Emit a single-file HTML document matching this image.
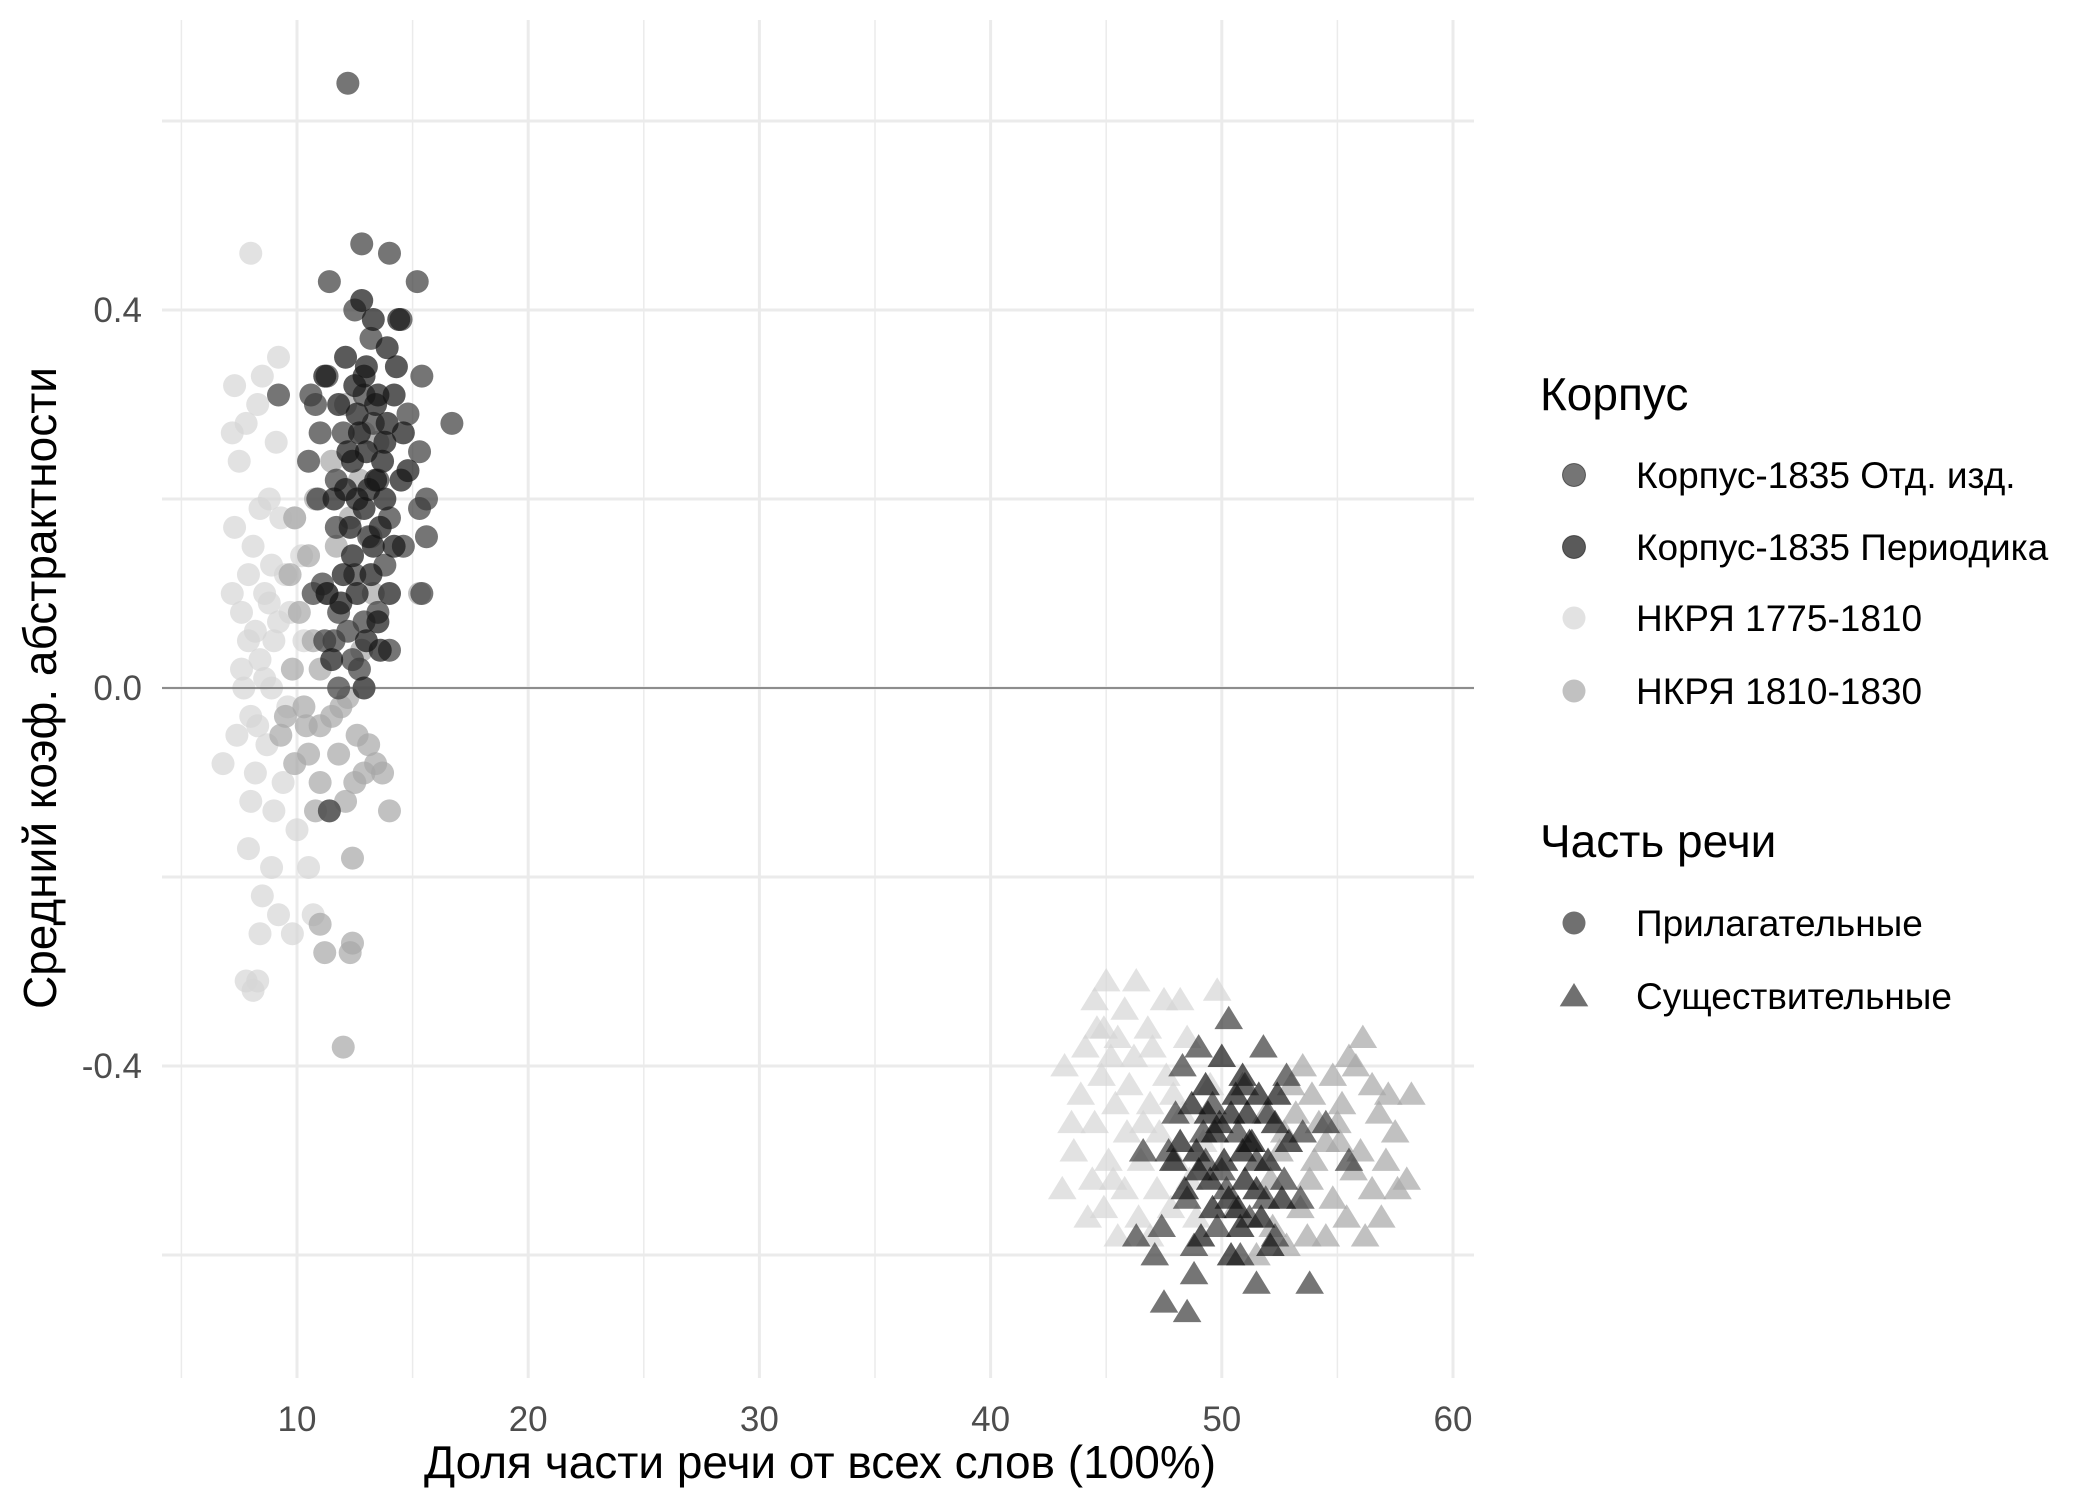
<!DOCTYPE html>
<html><head><meta charset="utf-8"><style>
html,body{margin:0;padding:0;background:#fff;}
svg{display:block;font-family:"Liberation Sans","DejaVu Sans",sans-serif;}
</style></head><body>
<svg id="chart" width="2100" height="1500" viewBox="0 0 2100 1500">
<g id="grid"></g>
<g id="points"></g>
<g id="axes"></g>
<text x="820" y="1478" text-anchor="middle" font-size="46" fill="#000">Доля части речи от всех слов (100%)</text>
<text transform="translate(56,688) rotate(-90)" text-anchor="middle" font-size="46" fill="#000">Средний коэф. абстрактности</text>
<g id="legend"></g>
</svg>
<script>
const xTicks=[10,20,30,40,50,60];
const xMinor=[5,15,25,35,45,55];
const yTicks=[0.4,0,-0.4];
const yMinor=[0.6,0.2,-0.2,-0.6];
const corpusNames=["Корпус-1835 Отд. изд.","Корпус-1835 Периодика","НКРЯ 1775-1810","НКРЯ 1810-1830"];
const corpusColors=["#3a3a3a","#141414","#d6d6d6","#a6a6a6"];
const posNames=["Прилагательные","Существительные"];
const adj1775=[[8,0.46],[7.3,0.32],[8.5,0.33],[9.2,0.35],[7.2,0.27],[7.8,0.28],[8.3,0.3],[7.5,0.24],[8.8,0.2],[9.3,0.18],[8.1,0.15],[7.9,0.12],[8.6,0.1],[9.5,0.12],[8.2,0.06],[7.6,0.08],[9,0.05],[8.4,0.03],[7.7,0],[8.9,0],[9.6,-0.02],[8,-0.03],[7.4,-0.05],[8.7,-0.06],[6.8,-0.08],[8.2,-0.09],[9.4,-0.1],[8,-0.12],[9,-0.13],[10,-0.15],[7.9,-0.17],[8.9,-0.19],[8.5,-0.22],[9.2,-0.24],[8.4,-0.26],[9.8,-0.26],[7.8,-0.31],[8.3,-0.31],[8.1,-0.32],[10.5,-0.19],[10.7,-0.24],[9.7,0.08],[10.2,0.14],[9.1,0.26],[7.3,0.17],[8.6,0.01],[7.9,0.05],[8.8,0.09],[8.4,0.19],[9.9,0.18],[7.6,0.02],[8.3,-0.04],[9.2,0.07],[10.3,0.05],[7.2,0.1],[8.9,0.13]];
const adj1810=[[12,-0.38],[11.2,-0.28],[12.4,-0.27],[12.3,-0.28],[11,-0.25],[12.4,-0.18],[10.8,-0.13],[11.4,-0.13],[11,-0.1],[12.1,-0.12],[14,-0.13],[13.4,-0.08],[13.7,-0.09],[10.5,-0.07],[11.8,-0.07],[12.6,-0.05],[9.9,-0.08],[9.5,-0.03],[10.3,-0.02],[11.5,-0.03],[12.2,-0.01],[9.8,0.02],[11,0.02],[10.7,0.05],[12.8,0.04],[10.1,0.08],[11.3,0.1],[9.7,0.12],[10.5,0.14],[11.7,0.15],[12.3,0.18],[10.8,0.2],[13.2,0.16],[15.3,0.1],[11.5,0.24],[12.9,0.27],[13.5,0.26],[12.1,0.3],[9.9,0.18],[11,-0.04],[13.1,-0.06],[12.9,-0.09],[9.3,-0.05],[10.4,-0.04],[12.5,-0.1],[11.9,-0.02],[13.3,0.1],[12.7,0.22]];
const adjOtd=[[12.2,0.64],[11.4,0.43],[12.8,0.47],[14,0.46],[15.2,0.43],[12.5,0.4],[14.5,0.39],[13.2,0.37],[11.3,0.33],[10.6,0.31],[9.2,0.31],[15.4,0.33],[16.7,0.28],[15.3,0.25],[12,0.27],[11,0.27],[13.5,0.22],[15.6,0.2],[15.3,0.19],[11.7,0.17],[14,0.18],[15.6,0.16],[13.1,0.16],[12.5,0.12],[15.4,0.1],[13.5,0.08],[10.7,0.1],[11.8,0.08],[12.9,0.07],[11.6,0.05],[12.4,0.03],[14,0.04],[11.2,0.05],[12.7,0.02],[11.8,0.0],[11.4,-0.13],[11.7,0.22],[10.5,0.24],[14.8,0.29],[12.9,0.31],[11.1,0.11],[13.8,0.13],[10.9,0.2],[12.2,0.06],[14.6,0.15],[10.8,0.3],[13.3,0.28]];
const adjPer=[[12.8,0.41],[13.3,0.39],[14.4,0.39],[12.1,0.35],[13,0.34],[14.3,0.34],[12.5,0.32],[13.5,0.31],[12.6,0.29],[14.2,0.31],[13.9,0.28],[12.2,0.25],[13,0.25],[14.6,0.27],[13.4,0.22],[12.1,0.21],[13.8,0.2],[14.5,0.22],[12.9,0.19],[13.6,0.17],[14.2,0.15],[12.4,0.14],[13.2,0.12],[14,0.1],[12.6,0.1],[11.9,0.09],[13.5,0.07],[13,0.05],[11.5,0.03],[12.9,0.0],[13.6,0.04],[12.3,0.17],[11.2,0.33],[14.8,0.23],[13.7,0.24],[12.7,0.27],[11.8,0.3],[13.9,0.36],[11.3,0.1],[12.9,0.33],[13.4,0.3],[12.4,0.24],[13.1,0.21],[13.8,0.26],[12.6,0.2],[13.3,0.15],[12,0.12],[11.6,0.2]];
const noun1775=[[45,-0.31],[46.3,-0.31],[44.5,-0.33],[45.8,-0.34],[47.5,-0.33],[48.2,-0.33],[49.8,-0.32],[44.6,-0.36],[45.5,-0.37],[46.8,-0.36],[44.1,-0.38],[45.2,-0.39],[47,-0.38],[48.5,-0.37],[43.2,-0.4],[44.8,-0.41],[46,-0.42],[47.6,-0.41],[43.9,-0.43],[45.4,-0.44],[46.9,-0.44],[48.3,-0.45],[44.5,-0.46],[45.9,-0.47],[47.3,-0.47],[43.6,-0.49],[45.1,-0.5],[46.5,-0.5],[48,-0.5],[44.4,-0.52],[45.8,-0.53],[47.2,-0.53],[43.1,-0.53],[44.9,-0.55],[46.4,-0.56],[47.8,-0.55],[45.5,-0.58],[44.2,-0.56],[49.2,-0.48],[49.5,-0.42],[48.9,-0.56],[46.2,-0.39],[44.9,-0.36],[46.6,-0.46],[47.9,-0.43],[45.3,-0.52],[46.9,-0.58],[48.6,-0.52],[43.5,-0.46]];
const noun1810=[[55.5,-0.39],[56.1,-0.37],[54.8,-0.41],[53.5,-0.4],[56.5,-0.42],[57.2,-0.43],[55.2,-0.44],[53.9,-0.43],[58.2,-0.43],[56.8,-0.45],[55,-0.46],[53.2,-0.45],[57.5,-0.47],[54.5,-0.48],[56,-0.49],[52.7,-0.47],[55.7,-0.51],[57.1,-0.5],[53.8,-0.52],[56.5,-0.53],[54.8,-0.54],[57.6,-0.53],[55.4,-0.56],[53.4,-0.55],[56.2,-0.58],[54.5,-0.58],[52.2,-0.57],[51.5,-0.6],[52.8,-0.59],[55.1,-0.48],[51.9,-0.45],[50.9,-0.42],[53,-0.42],[52.1,-0.52],[50.6,-0.55],[54.2,-0.46],[58,-0.52],[55.8,-0.4],[54,-0.5],[56.9,-0.56],[52.5,-0.49],[53.7,-0.58]];
const nounOtd=[[50.3,-0.35],[49,-0.38],[51.8,-0.38],[48.3,-0.4],[51,-0.42],[52.8,-0.41],[49.6,-0.44],[48,-0.45],[52,-0.45],[50.7,-0.47],[53.5,-0.47],[47.7,-0.49],[49.3,-0.5],[51.5,-0.5],[52.7,-0.52],[50.2,-0.53],[48.5,-0.54],[53.4,-0.54],[51.2,-0.56],[47.4,-0.57],[49.8,-0.57],[52.3,-0.58],[48.8,-0.59],[50.8,-0.6],[47.1,-0.6],[53.8,-0.63],[48.8,-0.62],[51.5,-0.63],[47.5,-0.65],[48.5,-0.66],[46.3,-0.58],[54.5,-0.46],[46.6,-0.49],[55.5,-0.5],[50,-0.51],[51.9,-0.54],[49.2,-0.47]];
const nounPer=[[50,-0.39],[50.9,-0.41],[49.3,-0.42],[51.6,-0.43],[48.7,-0.44],[50.4,-0.45],[52.3,-0.46],[49.7,-0.47],[51.2,-0.48],[48.2,-0.48],[50.1,-0.5],[52,-0.5],[49,-0.51],[51,-0.52],[50.3,-0.54],[52.6,-0.54],[48.4,-0.53],[49.6,-0.55],[51.7,-0.56],[50.8,-0.57],[49.1,-0.58],[52.1,-0.59],[50.4,-0.6],[51.3,-0.48],[49.4,-0.45],[52.9,-0.48],[47.9,-0.5],[50.6,-0.43],[49.9,-0.46],[50.9,-0.49],[51.5,-0.53],[49.5,-0.52],[50.7,-0.55],[48.9,-0.49],[52.4,-0.43],[51.1,-0.45]];

const NS="http://www.w3.org/2000/svg";
const PL=162,PR=1474,PT=20,PB=1378;
function sx(v){return 297+(v-10)*(1453-297)/50;}
function sy(v){return 688-v*(688-310)/0.4;}
function mk(tag,attrs,parent){const e=document.createElementNS(NS,tag);for(const k in attrs)e.setAttribute(k,attrs[k]);parent.appendChild(e);return e;}
const grid=document.getElementById('grid'),pts=document.getElementById('points'),axes=document.getElementById('axes'),leg=document.getElementById('legend');
xMinor.forEach(v=>{const l=mk('line',{x1:sx(v),x2:sx(v),y1:PT,y2:PB,stroke:'#ebebeb','stroke-width':1.5},grid);

});
yMinor.forEach(v=>{const l=mk('line',{x1:PL,x2:PR,y1:sy(v),y2:sy(v),stroke:'#ebebeb','stroke-width':3},grid);

});
xTicks.forEach(v=>{const l=mk('line',{x1:sx(v),x2:sx(v),y1:PT,y2:PB,stroke:'#ebebeb','stroke-width':3},grid);


const t=mk('text',{x:sx(v),y:1431,'text-anchor':'middle','font-size':35,fill:'#4d4d4d'},axes);t.textContent=v;

});
yTicks.forEach(v=>{const l=mk('line',{x1:PL,x2:PR,y1:sy(v),y2:sy(v),stroke:'#ebebeb','stroke-width':3},grid);


const t=mk('text',{x:142,y:sy(v)+12,'text-anchor':'end','font-size':35,fill:'#4d4d4d'},axes);t.textContent=v.toFixed(1);

});
const zl=mk('line',{x1:PL,x2:PR,y1:sy(0),y2:sy(0),stroke:'#555','stroke-width':1.3},axes);


function circle(x,y,c,parent){const e=mk('circle',{cx:x,cy:y,r:11.5,fill:c,'fill-opacity':0.7},parent);return e;}
function tri(x,y,c,parent){const s=13;const e=mk('polygon',{points:`${x},${y-s} ${x+s*1.1},${y+s*0.8} ${x-s*1.1},${y+s*0.8}`,fill:c,'fill-opacity':0.7},parent);return e;}
const adjGroups=[adj1775,adj1810,adjOtd,adjPer],adjIdx=[2,3,0,1];
const nounGroups=[noun1775,noun1810,nounOtd,nounPer];
adjGroups.forEach((g,i)=>g.forEach(p=>{const e=circle(sx(p[0]),sy(p[1]),corpusColors[adjIdx[i]],pts);

}));
nounGroups.forEach((g,i)=>g.forEach(p=>{const e=tri(sx(p[0]),sy(p[1]),corpusColors[adjIdx[i]],pts);

}));
let t=mk('text',{x:1540,y:410,'font-size':46,fill:'#000'},leg);t.textContent='Корпус';


const ly=[475,547,618,691];
corpusNames.forEach((n,i)=>{const c=circle(1587-13,ly[i],corpusColors[i],leg);c.setAttribute('stroke',i<2?'#000':'none');c.setAttribute('stroke-opacity','0.5');


const tx=mk('text',{x:1636,y:ly[i]+13,'font-size':37,fill:'#000'},leg);tx.textContent=n;

});
t=mk('text',{x:1540,y:857,'font-size':46,fill:'#000'},leg);t.textContent='Часть речи';


const py=[923,996];
posNames.forEach((n,i)=>{const k=i==0?circle(1574,py[i],'#333',leg):tri(1574,py[i],'#333',leg);


const tx=mk('text',{x:1636,y:py[i]+13,'font-size':37,fill:'#000'},leg);tx.textContent=n;

});
</script>
</body></html>
